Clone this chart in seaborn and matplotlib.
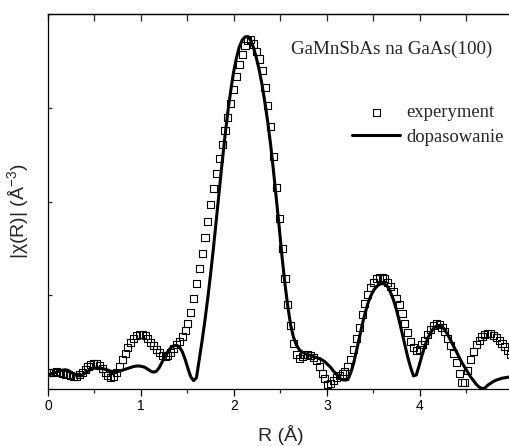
import numpy as np
import matplotlib
matplotlib.use("Agg")
import matplotlib.pyplot as plt
import seaborn as sns

# R grid of the Fourier transform (step ~0.0307 A)
r_step = 0.0307
n_pts = 163
R = np.arange(n_pts) * r_step

experyment = [
    0.18, 0.18, 0.18, 0.185, 0.18, 0.17, 0.16, 0.15, 0.14, 0.13,
    0.13, 0.15, 0.18, 0.21, 0.24, 0.26, 0.27, 0.27, 0.25, 0.22,
    0.18, 0.14, 0.12, 0.13, 0.18, 0.24, 0.31, 0.38, 0.44, 0.50,
    0.54, 0.57, 0.585, 0.585, 0.57, 0.54, 0.50, 0.46, 0.42, 0.385,
    0.36, 0.35, 0.36, 0.39, 0.43, 0.47, 0.51, 0.56, 0.62, 0.70,
    0.82, 0.97, 1.13, 1.29, 1.45, 1.62, 1.79, 1.97, 2.14, 2.30,
    2.46, 2.61, 2.76, 2.90, 3.05, 3.19, 3.33, 3.46, 3.57, 3.66,
    3.72, 3.73, 3.68, 3.60, 3.52, 3.40, 3.22, 3.02, 2.80, 2.48,
    2.15, 1.82, 1.50, 1.18, 0.90, 0.68, 0.49, 0.37, 0.33, 0.35,
    0.365, 0.37, 0.36, 0.34, 0.30, 0.24, 0.17, 0.11, 0.05, 0.06,
    0.09, 0.12, 0.14, 0.16, 0.19, 0.24, 0.31, 0.42, 0.54, 0.66,
    0.79, 0.91, 1.01, 1.08, 1.14, 1.18, 1.19, 1.19, 1.18, 1.14,
    1.09, 1.04, 0.97, 0.90, 0.81, 0.70, 0.60, 0.51, 0.44, 0.41,
    0.42, 0.47, 0.52, 0.58, 0.63, 0.68, 0.70, 0.69, 0.66, 0.61,
    0.54, 0.46, 0.38, 0.28, 0.17, 0.065, 0.065, 0.20, 0.31, 0.40,
    0.47, 0.52, 0.56, 0.58, 0.59, 0.59, 0.57, 0.55, 0.52, 0.49,
    0.45, 0.41, 0.37,
]

# fit (solid line)
dopasowanie = [
    0.15, 0.16, 0.17, 0.18, 0.19, 0.20, 0.205, 0.20, 0.18, 0.16,
    0.145, 0.14, 0.15, 0.17, 0.19, 0.21, 0.22, 0.225, 0.225, 0.22,
    0.21, 0.20, 0.19, 0.185, 0.185, 0.19, 0.20, 0.21, 0.22, 0.23,
    0.24, 0.245, 0.245, 0.24, 0.23, 0.21, 0.19, 0.18, 0.19, 0.23,
    0.29, 0.35, 0.40, 0.44, 0.46, 0.465, 0.45, 0.40, 0.32, 0.22,
    0.13, 0.09, 0.12, 0.32, 0.52, 0.74, 0.98, 1.24, 1.52, 1.82,
    2.12, 2.42, 2.70, 2.96, 3.18, 3.38, 3.53, 3.65, 3.72, 3.755,
    3.76, 3.72, 3.64, 3.53, 3.40, 3.24, 3.05, 2.84, 2.60, 2.32,
    2.02, 1.72, 1.40, 1.12, 0.88, 0.68, 0.55, 0.47, 0.42, 0.395,
    0.38, 0.365, 0.355, 0.345, 0.335, 0.325, 0.31, 0.29, 0.26, 0.23,
    0.19, 0.16, 0.12, 0.10, 0.095, 0.10, 0.17, 0.27, 0.40, 0.54,
    0.68, 0.80, 0.91, 0.99, 1.05, 1.09, 1.115, 1.125, 1.12, 1.09,
    1.03, 0.95, 0.85, 0.73, 0.60, 0.47, 0.34, 0.23, 0.14, 0.15,
    0.25, 0.36, 0.46, 0.54, 0.60, 0.645, 0.67, 0.675, 0.665, 0.63,
    0.58, 0.52, 0.46, 0.40, 0.34, 0.28, 0.23, 0.18, 0.13, 0.09,
    0.05, 0.02, 0.005, 0.01, 0.04, 0.06, 0.08, 0.095, 0.105, 0.115,
    0.12, 0.125, 0.13,
]

x_ticks = [0, 1, 2, 3, 4, 5]
y_ticks = [0, 1, 2, 3, 4]

sns.set_style("ticks")
plt.rcParams["font.family"] = ["Liberation Sans", "DejaVu Sans"]
plt.rcParams["mathtext.default"] = "regular"

fig = plt.figure(figsize=(5.10, 4.46), dpi=100)
W, H = 510, 446
ax = fig.add_axes([48 / W, 1 - 389 / H, 465 / W, 375 / H])

sns.scatterplot(x=R, y=experyment, ax=ax, marker="s", s=26,
                facecolor="none", edgecolor="black", linewidth=0.8,
                label="experyment", zorder=2)
sns.lineplot(x=R, y=dopasowanie, ax=ax, color="black", linewidth=2.2,
             label="dopasowanie", zorder=3)

ax.set_xlim(0, 5)
ax.set_ylim(0, 4)
ax.set_xticks(x_ticks)
ax.set_xticks(np.arange(0, 5.01, 0.5), minor=True)
ax.set_yticks(y_ticks)
ax.set_yticklabels([])

for s in ax.spines.values():
    s.set_color("black")
    s.set_linewidth(0.9)

ax.tick_params(axis="x", which="major", direction="out", length=5, width=0.9,
               labelsize=10, pad=2, colors="black")
ax.tick_params(axis="x", which="minor", direction="out", length=3, width=0.9)
ax.tick_params(axis="y", which="major", direction="in", length=3, width=0.9)

# top axis with inward ticks every 0.5
top = ax.secondary_xaxis("top")
top.set_xticks(np.arange(0, 5.01, 0.5))
top.set_xticklabels([])
top.tick_params(direction="in", length=5, width=0.9)
top.spines["top"].set_linewidth(0.9)

ax.set_xlabel("R (Å)", fontsize=14, labelpad=9)
ax.set_ylabel("|χ(R)| (Å$^{-3}$)", fontsize=14)
ax.yaxis.set_label_coords(-17 / 465, 0.475)

leg = ax.legend(loc="upper left", bbox_to_anchor=(352 / W, 1 - 104 / H),
                bbox_transform=fig.transFigure, frameon=False,
                prop={"family": "Liberation Serif", "size": 13.4},
                handlelength=2.6, handletextpad=0.3, labelspacing=0.4,
                borderpad=0, borderaxespad=0)

fig.text(291 / W, 1 - 54 / H, "GaMnSbAs na GaAs(100)", family="Liberation Serif",
         fontsize=13.7, va="baseline", ha="left")

fig.savefig("out.png", dpi=100)
